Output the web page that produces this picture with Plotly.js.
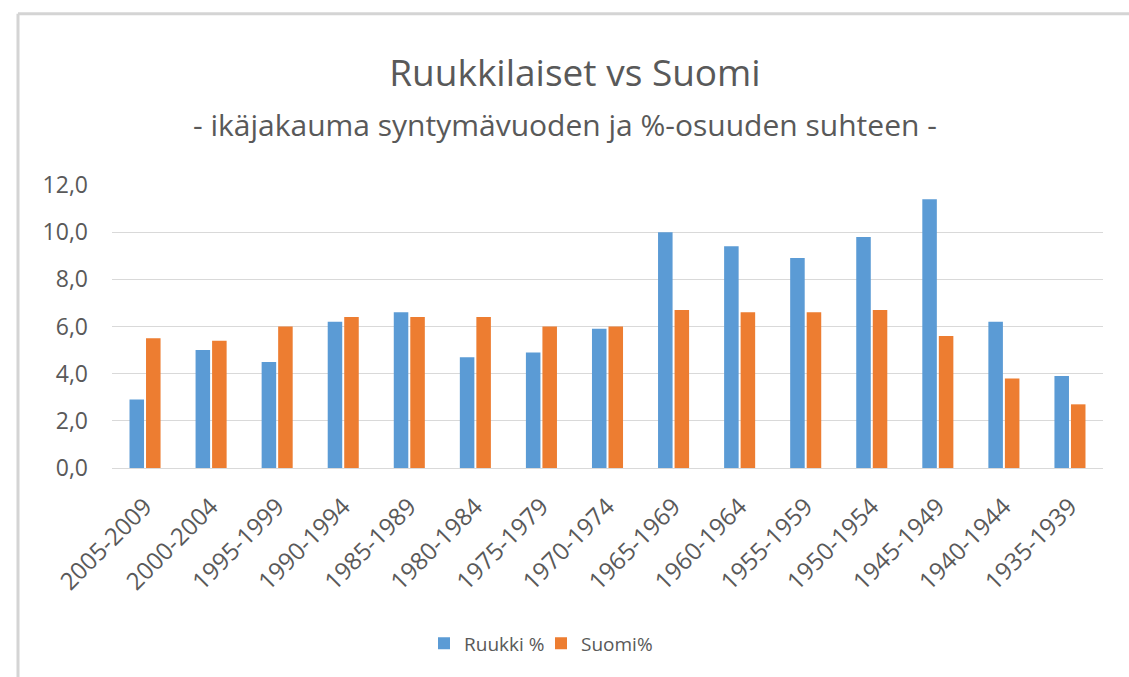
<!DOCTYPE html>
<html>
<head>
<meta charset="utf-8">
<script src="https://cdn.plot.ly/plotly-3.0.1.min.js"></script>
<style>html,body{margin:0;padding:0;background:#fff;}#chart{width:1129px;height:677px;}</style>
</head>
<body>
<div id="chart"></div>
<script>
const categories = ["2005-2009","2000-2004","1995-1999","1990-1994","1985-1989","1980-1984","1975-1979","1970-1974","1965-1969","1960-1964","1955-1959","1950-1954","1945-1949","1940-1944","1935-1939"];
const ruukki = [2.9, 5.0, 4.5, 6.2, 6.6, 4.7, 4.9, 5.9, 10.0, 9.4, 8.9, 9.8, 11.4, 6.2, 3.9];
const suomi = [5.5, 5.4, 6.0, 6.4, 6.4, 6.4, 6.0, 6.0, 6.7, 6.6, 6.6, 6.7, 5.6, 3.8, 2.7];
const seriesNames = ["Ruukki %", "Suomi%"];
const yTicks = [0, 2, 4, 6, 8, 10, 12];

const FONT = "'Open Sans', Lato, sans-serif";
const TXT = "#595959";

const traces = [
  {type: "bar", name: seriesNames[0], x: categories, y: ruukki, marker: {color: "#5B9BD5"}, hoverinfo: "x+y"},
  {type: "bar", name: seriesNames[1], x: categories, y: suomi, marker: {color: "#ED7D31"}, hoverinfo: "x+y"}
];

const PL = 112, PR = 1103, PT = 185, PB = 467.7;
const px = v => (v - PL) / (PR - PL);
const py = v => (PB - v) / (PB - PT);

const layout = {
  width: 1129, height: 677,
  margin: {l: PL, r: 1129 - PR, t: PT, b: 677 - PB, pad: 0},
  paper_bgcolor: "#ffffff", plot_bgcolor: "#ffffff",
  font: {family: FONT, color: TXT, size: 16},
  separators: ", ",
  title: {text: "Ruukkilaiset vs Suomi", font: {family: FONT, size: 37, color: TXT}, x: px(575), xanchor: "center", xref: "paper", y: 1 - 73/677, yref: "container", yanchor: "middle"},
  annotations: [{text: "- ikäjakauma syntymävuoden ja %-osuuden suhteen -", xref: "paper", yref: "paper", x: px(565), y: py(125), xanchor: "center", yanchor: "middle", showarrow: false, font: {family: FONT, size: 30, color: TXT}}],
  barmode: "group", bargap: 0.5, bargroupgap: 0.12,
  xaxis: {type: "category", tickangle: -45, tickfont: {family: FONT, size: 24, color: TXT}, showgrid: false, showline: true, linecolor: "#D9D9D9", linewidth: 1, ticks: "", ticklabelstandoff: 14, automargin: false, fixedrange: true},
  yaxis: {range: [0, 12], tickvals: yTicks, tickformat: ".1f", tickfont: {family: FONT, size: 23, color: TXT}, showgrid: true, gridcolor: "#D9D9D9", gridwidth: 1, zeroline: false, showline: false, ticks: "", ticklabelstandoff: 23, automargin: false, fixedrange: true},
  showlegend: true,
  legend: {orientation: "h", x: px(424), xanchor: "left", y: py(643), yanchor: "middle", font: {family: FONT, size: 19, color: TXT}, itemwidth: 30, entrywidth: 72, entrywidthmode: "pixels", traceorder: "normal"},
  shapes: [
    {type: "line", xref: "paper", yref: "paper", x0: px(18), x1: px(1129), y0: py(14), y1: py(14), line: {color: "#D4D4D4", width: 3}},
    {type: "line", xref: "paper", yref: "paper", x0: px(18), x1: px(18), y0: py(14), y1: py(677), line: {color: "#D4D4D4", width: 3}}
  ]
};

Plotly.newPlot("chart", traces, layout, {displayModeBar: false, staticPlot: true});
</script>
</body>
</html>
